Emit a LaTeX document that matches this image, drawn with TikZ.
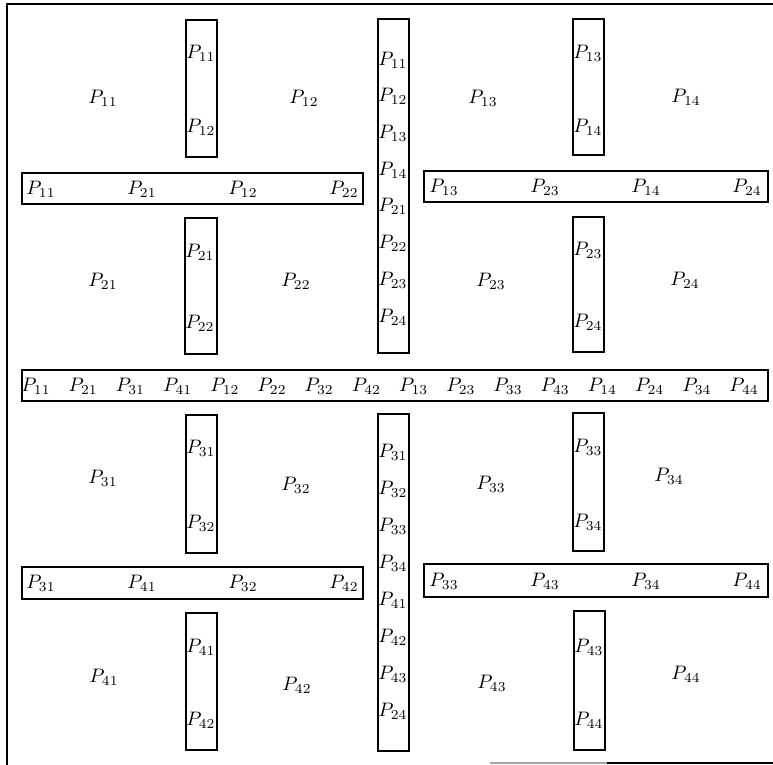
\documentclass[tikz,border=0pt]{standalone}
\usepackage{tikz}
\usetikzlibrary{positioning}
\begin{document}
\begin{tikzpicture}[x=0.018cm,y=-0.018cm,
bar/.style={draw,line width=.9pt},
lab/.style={inner sep=0pt,anchor=west},
ent/.style={inner sep=0pt}]
\useasboundingbox (0,0) rectangle (773,765);
% outer frame
\draw[line width=.9pt] (773,4) -- (7,4) -- (7,765);
\draw[line width=.9pt,black!35] (490,763) -- (607,763);
\draw[line width=.9pt] (607,763) -- (773,763);
% bars
\foreach \xa/\ya/\xb/\yb in {186/20/217/157, 22/173/363/204, 185/218/217/354, 378/19/409/353,
  573/19/604/155, 424/171/768/202, 573/217/604/352, 22/370/768/401,
  186/415/217/553, 22/567/363/599, 186/613/217/750, 378/414/409/751,
  573/413/604/551, 424/564/768/597, 574/611/605/750}
  \draw[bar] (\xa,\ya) rectangle (\xb,\yb);
% short vertical bars
\foreach \x/\ya/\yb/\sa/\sb [count=\i] in {186/53/127/11/12, 185/252/323/21/22, 573/53/127/13/14, 573/250/322/23/24,
  186/448/523/31/32, 186/647/720/41/42, 573/447/522/33/34, 574/647/720/43/44}{
  \node[lab] (s\i-a) at (\x,\ya) {$P_{\sa}$};
  \node[lab] (s\i-b) at (\x,\yb) {$P_{\sb}$};
}
% short horizontal bars
\foreach \x/\y/\sa/\sb/\sc/\sd [count=\i] in {41/189/11/21/12/22, 444/187/13/23/14/24,
  41/583/31/41/32/42, 444/581/33/43/34/44}{
  \node[ent] (h\i-a) at (\x,\y) {$P_{\sa}$};
  \node[ent] (h\i-b) at (\x+101,\y) {$P_{\sb}$};
  \node[ent] (h\i-c) at (\x+202,\y) {$P_{\sc}$};
  \node[ent] (h\i-d) at (\x+303,\y) {$P_{\sd}$};
}
% long vertical bars
\foreach \s [count=\i] in {11,12,13,14,21,22,23,24}
  \node[lab] (u\i) at (378,60+36.7*\i-36.7) {$P_{\s}$};
\foreach \s [count=\i] in {31,32,33,34,41,42,43,24}
  \node[lab] (d\i) at (378,452+37*\i-37) {$P_{\s}$};
% long horizontal bar
\foreach \s [count=\i] in {11,21,31,41,12,22,32,42,13,23,33,43,14,24,34,44}
  \node[ent] (l\i) at (36+47.2*\i-47.2,386) {$P_{\s}$};
% blocks
\foreach \x/\y/\s in {103/98/11, 304/98/12, 483/98/13, 686/97/14,
  103/281/21, 296/281/22, 491/281/23, 685/280/24,
  103/478/31, 296/485/32, 491/484/33, 669/476/34,
  104/677/41, 297/685/42, 492/683/43, 686/674/44}
  \node[ent] (b\s) at (\x,\y) {$P_{\s}$};
\end{tikzpicture}
\end{document}
